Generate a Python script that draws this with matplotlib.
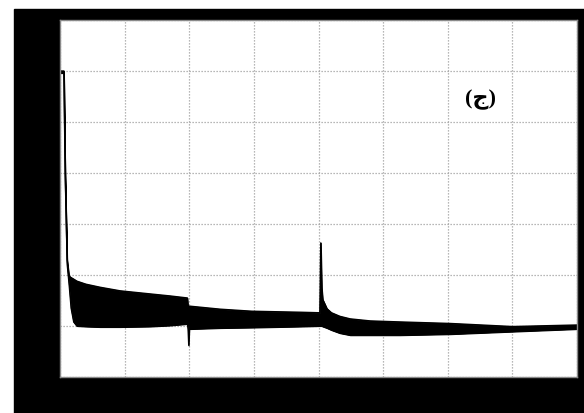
import matplotlib
matplotlib.use("Agg")
import matplotlib.pyplot as plt
from matplotlib.patches import Rectangle

# Oscilloscope trace in divisions (8 x 7 grid).
# The trace is a dense noisy band, so it is kept as upper/lower envelopes.
t_div = [0.00, 0.06, 0.08, 0.11, 0.14, 0.17, 0.21, 0.26, 0.40, 0.62,
         0.93, 1.39, 1.70, 1.97, 1.98, 1.99, 2.00, 2.48, 2.97, 3.72,
         4.02, 4.035, 4.05, 4.065, 4.13, 4.20, 4.33, 4.49, 4.80, 5.26,
         6.04, 7.00, 8.00]
upper_div = [6.00, 6.00, 4.00, 2.30, 1.98, 1.95, 1.92, 1.88, 1.82, 1.76,
             1.69, 1.63, 1.59, 1.55, 1.39, 1.39, 1.39, 1.33, 1.29, 1.27,
             1.26, 2.63, 1.75, 1.52, 1.34, 1.26, 1.19, 1.14, 1.10, 1.08,
             1.05, 0.99, 1.02]
lower_div = [5.96, 5.96, 3.96, 2.20, 1.80, 1.35, 1.08, 1.00, 0.99, 0.98,
             0.98, 0.99, 1.01, 1.04, 0.94, 0.62, 0.94, 0.96, 0.97, 0.99,
             1.00, 1.00, 1.00, 0.99, 0.96, 0.92, 0.86, 0.82, 0.82, 0.82,
             0.84, 0.89, 0.94]

panel_label = "(ج)"
n_xdiv, n_ydiv = 8, 7

W, H = 584, 413
fig = plt.figure(figsize=(W / 100, H / 100), dpi=100)
fig.patch.set_facecolor("white")

# black scope bezel behind the screen
fig.patches.append(Rectangle((14 / W, 0), (W - 14) / W, (H - 9) / H,
                             transform=fig.transFigure, color="black", zorder=-10))

ax = fig.add_axes([60 / W, (H - 377) / H, 517 / W, 357 / H])
ax.set_zorder(1)
ax.set_facecolor("white")

ax.fill_between(t_div, lower_div, upper_div, color="black", linewidth=0.8,
                edgecolor="black")
ax.plot(t_div, upper_div, color="black", lw=1.0)
ax.plot(t_div, lower_div, color="black", lw=0.8)

ax.set_xlim(0, n_xdiv)
ax.set_ylim(0, n_ydiv)
ax.set_xticks(range(n_xdiv + 1))
ax.set_yticks(range(n_ydiv + 1))
ax.tick_params(length=0, labelbottom=False, labelleft=False)
ax.grid(True, color="#a0a0a0", linestyle=(0, (1.0, 1.4)), linewidth=0.9)
ax.set_axisbelow(True)
for sp in ax.spines.values():
    sp.set_color("#8a8a8a")
    sp.set_linewidth(1.0)

ax.text(6.5, 5.43, panel_label, ha="center", va="center", fontsize=16,
        fontweight="bold", family=["Liberation Serif", "DejaVu Sans"])

fig.savefig("out.png", dpi=100, facecolor="white")
